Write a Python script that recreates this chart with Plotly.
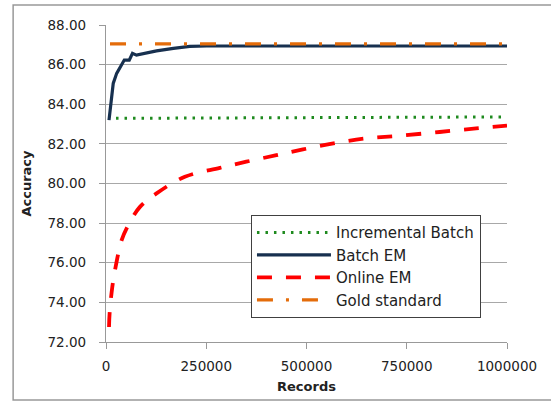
import plotly.graph_objects as go

# ---- data ----
incremental_records = [25000, 250000, 500000, 750000, 1000000]
incremental_acc = [83.29, 83.31, 83.33, 83.35, 83.36]

batch_em_records = [7500, 18000, 26600, 35000, 45600, 58000, 66000, 76000, 100000,
                    126000, 168000, 209000, 251000, 400000, 550000, 700000, 850000, 1000000]
batch_em_acc = [83.2, 85.05, 85.56, 85.85, 86.23, 86.23, 86.57, 86.48, 86.58,
                86.69, 86.82, 86.92, 86.94, 86.93, 86.93, 86.94, 86.94, 86.94]

online_em_records = [7500, 9000, 15700, 24000, 39000, 55500, 84700, 126000, 196700,
                     284000, 350000, 425000, 491000, 574000, 649000, 732000, 832000,
                     923000, 1000000]
online_em_acc = [72.76, 73.44, 74.78, 75.79, 77.14, 77.9, 78.82, 79.5, 80.34,
                 80.79, 81.1, 81.43, 81.72, 82.05, 82.28, 82.41, 82.6, 82.78, 82.92]

gold_records = [10000, 1000000]
gold_acc = [87.05, 87.05]

y_ticks = [72, 74, 76, 78, 80, 82, 84, 86, 88]
x_ticks = [0, 250000, 500000, 750000, 1000000]

FONT = "DejaVu Sans"

fig = go.Figure()
fig.add_trace(go.Scatter(x=incremental_records, y=incremental_acc, mode="lines",
                         name="Incremental Batch",
                         line=dict(color="#1E8A1E", width=3, dash="2.5px,6px")))
fig.add_trace(go.Scatter(x=batch_em_records, y=batch_em_acc, mode="lines",
                         name="Batch EM",
                         line=dict(color="#17304F", width=3.2)))
fig.add_trace(go.Scatter(x=online_em_records, y=online_em_acc, mode="lines",
                         name="Online EM", line_shape="spline",
                         line=dict(color="#FF0000", width=3.8, dash="15px,14px")))
fig.add_trace(go.Scatter(x=gold_records, y=gold_acc, mode="lines",
                         name="Gold standard",
                         line=dict(color="#E46C0A", width=3.2, dash="16px,13px,3px,13px")))

fig.update_layout(
    width=551, height=405,
    margin=dict(l=106, r=43.5, t=25, b=63),
    paper_bgcolor="white", plot_bgcolor="white",
    font=dict(family=FONT, size=13.5, color="#222222"),
    showlegend=True,
    legend=dict(x=0.361, y=0.4006, xanchor="left", yanchor="top",
                bgcolor="white", bordercolor="#404040", borderwidth=1.2,
                font=dict(family=FONT, size=15, color="#222222"),
                entrywidth=253, itemwidth=74),
    xaxis=dict(range=[0, 1000000], tickvals=x_ticks,
               ticktext=[str(v) for v in x_ticks],
               showgrid=False, zeroline=False, automargin=False,
               showline=True, linecolor="#999999", linewidth=1.3,
               ticks="outside", ticklen=6, tickcolor="#999999", tickwidth=1.3,
               ticklabelstandoff=6,
               title=dict(text="<b>Records</b>", font=dict(family=FONT, size=13),
                          standoff=8)),
    yaxis=dict(range=[72, 88], tickvals=y_ticks,
               ticktext=[f"{v:.2f}" for v in y_ticks],
               showgrid=True, gridcolor="#A8A8A8", gridwidth=1.2,
               zeroline=False, automargin=False,
               showline=True, linecolor="#999999", linewidth=1.3,
               ticks="outside", ticklen=6, tickcolor="#999999", tickwidth=1.3,
               ticklabelstandoff=10,
               title=dict(text="<b>Accuracy</b>", font=dict(family=FONT, size=13),
                          standoff=12)),
    shapes=[dict(type="rect", xref="paper", yref="paper",
                 x0=-0.2316, x1=1.25, y0=-0.183, y1=1.063,
                 line=dict(color="#999999", width=1.5), layer="below")],
)

fig.write_html("out.html", config={"displayModeBar": False},
               post_script="document.body.style.margin='0';document.body.style.padding='0';")
